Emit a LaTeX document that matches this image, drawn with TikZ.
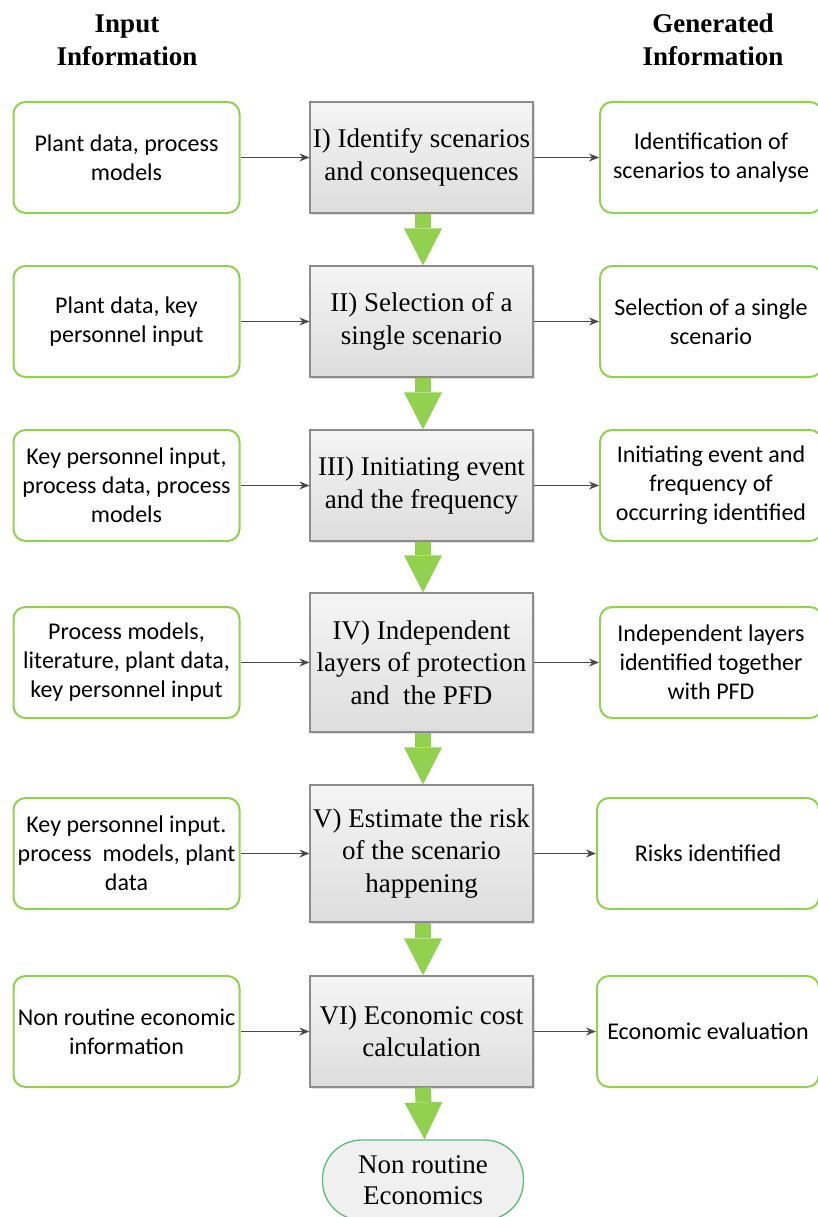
\documentclass[tikz,border=0pt]{standalone}
\usepackage{fontspec}
\setmainfont{Liberation Serif}
\newfontfamily\lopasans{Carlito}
\usetikzlibrary{arrows.meta,shadows}
\definecolor{lopaGreen}{HTML}{92D050}
\definecolor{lopaMint}{HTML}{5DBB7A}
\definecolor{lopaEdge}{HTML}{8C8C8C}
\definecolor{lopaTop}{HTML}{F5F5F5}
\definecolor{lopaBottom}{HTML}{DDDDDD}
\definecolor{lopaDark}{HTML}{4A4A4A}
\definecolor{lopaPale}{HTML}{F0F0F0}
\tikzset{
  lopa head/.style={align=center, font=\bfseries\fontsize{27}{33}\selectfont},
  lopa side/.style={draw=lopaGreen, line width=2pt, rounded corners=12pt, fill=white, minimum width=226pt, minimum height=111pt, inner sep=1pt, align=center, font=\lopasans\fontsize{24}{29}\selectfont},
  lopa stepbox/.style={draw=lopaEdge, line width=1.2pt, top color=lopaTop, bottom color=lopaBottom, minimum width=223pt, minimum height=111pt, inner sep=1pt, align=center, drop shadow={opacity=0.25, shadow xshift=2pt, shadow yshift=-2pt}, font=\fontsize{27}{32.5}\selectfont},
  lopa end/.style={draw=lopaMint, line width=1.3pt, fill=lopaPale, rounded corners=39pt, minimum width=201pt, minimum height=80pt, inner sep=1pt, align=center, font=\fontsize{27}{31.5}\selectfont},
  lopa link/.style={draw=lopaDark, line width=1.3pt, -{Stealth[length=10pt, width=8pt]}},
  lopa flow/.style={draw=lopaGreen, line width=16pt, -{Triangle[width=38pt, length=37pt, line width=0pt]}},
}

\begin{document}
\begin{tikzpicture}[x=1pt, y=-1pt]
  \useasboundingbox (0,0) rectangle (817,1217);

  % column headers
  \node[lopa head] (hin) at (127,40) {Input\\Information};
  \node[lopa head] (hout) at (713,40) {Generated\\Information};

  % Row I
  \node[lopa side] (in1) at (126.5,157.5) {Plant data, process\\models};
  \node[lopa stepbox] (st1) at (421.5,157.5) {I) Identify scenarios\\and consequences};
  \node[lopa side, minimum width=222pt] (out1) at (711,157.5) {Identification of\\scenarios to analyse};

  % Row II
  \node[lopa side] (in2) at (126.5,321.5) {Plant data, key\\personnel input};
  \node[lopa stepbox] (st2) at (421.5,321.5) {II) Selection of a\\single scenario};
  \node[lopa side, minimum width=222pt] (out2) at (711,321.5) {Selection of a single\\scenario};

  % Row III
  \node[lopa side] (in3) at (126.5,485.5) {Key personnel input,\\process data, process\\models};
  \node[lopa stepbox] (st3) at (421.5,485.5) {III) Initiating event\\and the frequency};
  \node[lopa side, minimum width=222pt] (out3) at (711,485.5) {Initiating event and\\frequency of\\occurring identified};

  % Row IV
  \node[lopa side] (in4) at (126.5,662.5) {Process models,\\literature, plant data,\\key personnel input};
  \node[lopa stepbox, minimum height=139pt] (st4) at (421.5,662.5) {IV) Independent\\layers of protection\\and~ the PFD};
  \node[lopa side, minimum width=222pt] (out4) at (711,662.5) {Independent layers\\identified together\\with PFD};

  % Row V
  \node[lopa side] (in5) at (126.5,853.5) {Key personnel input.\\process~ models, plant\\data};
  \node[lopa stepbox, minimum height=137pt] (st5) at (421.5,853.5) {V) Estimate the risk\\of the scenario\\happening};
  \node[lopa side, minimum width=222pt] (out5) at (708,853.5) {Risks identified};

  % Row VI
  \node[lopa side] (in6) at (126.5,1031.5) {Non routine economic\\information};
  \node[lopa stepbox] (st6) at (421.5,1031.5) {VI) Economic cost\\calculation};
  \node[lopa side, minimum width=222pt] (out6) at (708,1031.5) {Economic evaluation};

  % final outcome
  \node[lopa end] (end) at (423,1180) {Non routine\\Economics};

  % side links
  \foreach \r in {1,...,6} {
    \draw[lopa link] (in\r) -- (st\r);
    \draw[lopa link] (st\r) -- (out\r);
  }

  % main flow
  \foreach \a/\b in {st1/st2, st2/st3, st3/st4, st4/st5, st5/st6, st6/end} {
    \draw[lopa flow] ([xshift=1.5pt]\a.south) -- ([xshift=1.5pt]\b.north);
  }
\end{tikzpicture}
\end{document}
